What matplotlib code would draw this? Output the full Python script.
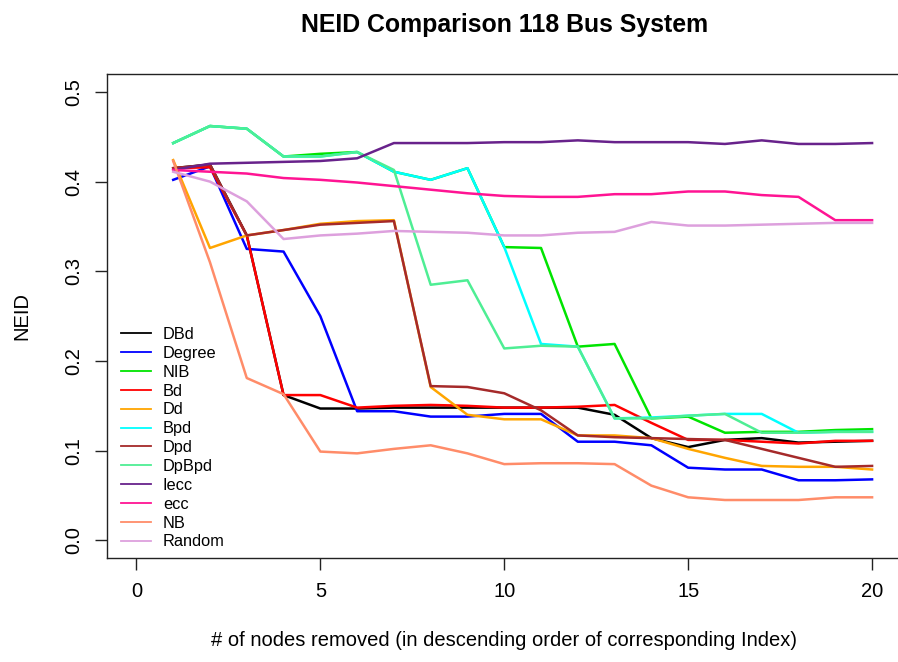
import numpy as np
import matplotlib
matplotlib.use("Agg")
import matplotlib.pyplot as plt
from matplotlib.lines import Line2D

plt.rcParams['font.family'] = ['Liberation Sans', 'DejaVu Sans']

# nodes removed
nodes = list(range(1, 21))

# NEID values per index
DBd = [0.415, 0.419, 0.340, 0.162, 0.147, 0.147, 0.148, 0.148, 0.148, 0.148,
       0.148, 0.148, 0.140, 0.114, 0.104, 0.112, 0.114, 0.109, 0.110, 0.111]
Degree = [0.402, 0.417, 0.325, 0.322, 0.250, 0.144, 0.144, 0.138, 0.138, 0.141,
          0.141, 0.110, 0.110, 0.106, 0.081, 0.079, 0.079, 0.067, 0.067, 0.068]
NIB = [0.443, 0.462, 0.459, 0.428, 0.431, 0.433, 0.411, 0.402, 0.415, 0.327,
       0.326, 0.216, 0.219, 0.136, 0.138, 0.120, 0.121, 0.121, 0.123, 0.124]
Bd = [0.415, 0.416, 0.340, 0.162, 0.162, 0.148, 0.150, 0.151, 0.150, 0.148,
      0.148, 0.149, 0.151, 0.131, 0.112, 0.112, 0.110, 0.108, 0.111, 0.111]
Dd = [0.424, 0.326, 0.340, 0.346, 0.353, 0.356, 0.357, 0.171, 0.140, 0.135,
      0.135, 0.117, 0.117, 0.114, 0.102, 0.092, 0.083, 0.082, 0.082, 0.079]
Bpd = [0.443, 0.462, 0.459, 0.428, 0.428, 0.433, 0.411, 0.402, 0.415, 0.327,
       0.219, 0.216, 0.136, 0.137, 0.139, 0.141, 0.141, 0.120, 0.121, 0.121]
Dpd = [0.415, 0.419, 0.340, 0.346, 0.352, 0.354, 0.356, 0.172, 0.171, 0.164,
       0.145, 0.117, 0.115, 0.114, 0.113, 0.112, 0.102, 0.092, 0.082, 0.083]
DpBpd = [0.443, 0.462, 0.459, 0.428, 0.428, 0.433, 0.413, 0.285, 0.290, 0.214,
         0.217, 0.216, 0.136, 0.136, 0.139, 0.141, 0.120, 0.120, 0.121, 0.121]
Iecc = [0.413, 0.420, 0.421, 0.422, 0.423, 0.426, 0.443, 0.443, 0.443, 0.444,
        0.444, 0.446, 0.444, 0.444, 0.444, 0.442, 0.446, 0.442, 0.442, 0.443]
ecc = [0.413, 0.411, 0.409, 0.404, 0.402, 0.399, 0.395, 0.391, 0.387, 0.384,
       0.383, 0.383, 0.386, 0.386, 0.389, 0.389, 0.385, 0.383, 0.357, 0.357]
NB = [0.423, 0.310, 0.181, 0.163, 0.099, 0.097, 0.102, 0.106, 0.097, 0.085,
      0.086, 0.086, 0.085, 0.061, 0.048, 0.045, 0.045, 0.045, 0.048, 0.048]
Random = [0.411, 0.400, 0.378, 0.336, 0.340, 0.342, 0.345, 0.344, 0.343, 0.340,
          0.340, 0.343, 0.344, 0.355, 0.351, 0.351, 0.352, 0.353, 0.354, 0.354]

labels = ['DBd', 'Degree', 'NIB', 'Bd', 'Dd', 'Bpd', 'Dpd', 'DpBpd',
          'Iecc', 'ecc', 'NB', 'Random']
series = [DBd, Degree, NIB, Bd, Dd, Bpd, Dpd, DpBpd, Iecc, ecc, NB, Random]
colors = ['black', '#0000FF', '#00E400', '#FF0000', '#FFA500', '#00FFFF',
          '#A52A2A', '#4EEE94', '#68228B', '#FF1493', '#FF8C69', '#DDA0DD']

xticks = [0, 5, 10, 15, 20]
yticks = [0.0, 0.1, 0.2, 0.3, 0.4, 0.5]

W, H = 898, 662
fig = plt.figure(figsize=(W / 100, H / 100), dpi=100)
ax = fig.add_axes([107 / W, 1 - 558.3 / H, 794.5 / W, 484.3 / H])

for vals, col in zip(series, colors):
    ax.plot(nodes, vals, color=col, lw=1.8)

ax.set_xlim(-0.8, 20.8)
ax.set_ylim(-0.02, 0.52)
ax.set_xticks(xticks)
ax.set_xticklabels([str(t) for t in xticks])
ax.set_yticks(yticks)
ax.set_yticklabels(['%.1f' % t for t in yticks])
ax.tick_params(direction='out', length=8.5, width=1, labelsize=14.5, pad=8.5,
               color='#222222')
plt.setp(ax.get_yticklabels(), rotation=90, va='center')
for s in ax.spines.values():
    s.set_color('#222222')
    s.set_linewidth(1)

ax.set_title('NEID Comparison 118 Bus System', fontsize=17.9,
             fontweight='bold', y=(558.3 - 25) / 484.3, pad=0, va='center')
ax.set_xlabel('# of nodes removed (in descending order of corresponding Index)',
              fontsize=14.5)
ax.xaxis.set_label_coords(0.5, (558.3 - 641) / 484.3)
ax.xaxis.label.set_va('center')
ax.set_ylabel('NEID', fontsize=14.5)
ax.yaxis.set_label_coords((22 - 107) / 794.5, 0.5)
ax.yaxis.label.set_va('center')

handles = [Line2D([], [], color=c, lw=1.3) for c in colors]
ax.legend(handles, labels, loc='upper left',
          bbox_to_anchor=(121 / W, 1 - 327 / H), bbox_transform=fig.transFigure,
          frameon=False, borderpad=0, borderaxespad=0, handlelength=1.8,
          handletextpad=0.75, labelspacing=0.235, fontsize=11.8)

fig.savefig('out.png', dpi=100)
